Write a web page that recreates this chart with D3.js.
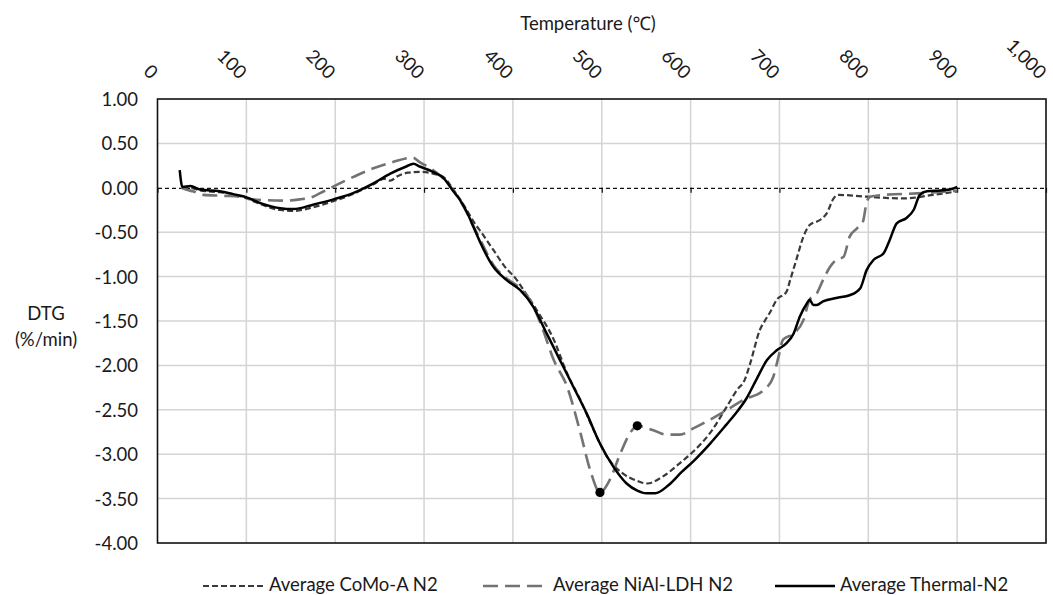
<!DOCTYPE html>
<html>
<head>
<meta charset="utf-8">
<script src="https://cdn.jsdelivr.net/npm/d3@7"></script>
<style>
  html, body { margin: 0; padding: 0; background: #fff; }
  svg { display: block; font-family: Lato, "Noto Sans", "DejaVu Sans", sans-serif; }
</style>
</head>
<body>
<svg id="chart" width="1053" height="595"></svg>
<script>
// Axis ticks and labels
const xTicks = [0, 100, 200, 300, 400, 500, 600, 700, 800, 900, 1000];
const xTickLabels = ["0", "100", "200", "300", "400", "500", "600", "700", "800", "900", "1,000"];
const yTicks = [1, 0.5, 0, -0.5, -1, -1.5, -2, -2.5, -3, -3.5, -4];
const yTickLabels = ["1.00", "0.50", "0.00", "-0.50", "-1.00", "-1.50", "-2.00", "-2.50", "-3.00", "-3.50", "-4.00"];

// Series names shown in the legend
const seriesNames = ["Average CoMo-A N2", "Average NiAl-LDH N2", "Average Thermal-N2"];

// DTG (%/min) against temperature (°C)
const comoA = [
  [28, 0.00], [37, 0.00], [48, -0.03], [70, -0.05], [89, -0.08], [101, -0.12], [115, -0.18],
  [138, -0.25], [153, -0.26], [175, -0.22], [198, -0.15], [220, -0.07], [243, 0.04], [255, 0.10],
  [262, 0.08], [270, 0.13], [282, 0.17], [295, 0.18], [310, 0.16], [322, 0.12], [333, -0.02],
  [345, -0.20], [357, -0.40], [365, -0.51], [378, -0.70], [391, -0.89], [403, -1.02], [412, -1.15],
  [427, -1.38], [446, -1.71], [461, -2.09], [476, -2.39], [491, -2.73], [506, -3.03], [524, -3.22],
  [540, -3.30], [551, -3.33], [569, -3.25], [588, -3.10], [603, -2.97], [622, -2.76], [641, -2.46],
  [652, -2.28], [661, -2.16], [667, -1.98], [678, -1.60], [684, -1.49], [689, -1.41], [697, -1.26],
  [708, -1.17], [712, -1.04], [719, -0.81], [727, -0.55], [734, -0.42], [746, -0.36], [753, -0.29],
  [761, -0.12], [766, -0.08], [798, -0.10], [839, -0.12], [873, -0.08], [900, -0.04]
];

const nialLDH = [
  [27, 0.00], [32, -0.02], [40, -0.04], [52, -0.08], [74, -0.09], [93, -0.10], [100, -0.12],
  [123, -0.14], [145, -0.145], [160, -0.13], [175, -0.10], [183, -0.06], [195, 0.00], [205, 0.05],
  [220, 0.12], [243, 0.22], [265, 0.29], [287, 0.34], [295, 0.29], [310, 0.20], [325, 0.07],
  [335, -0.06], [345, -0.22], [355, -0.42], [365, -0.62], [378, -0.87], [393, -1.02], [408, -1.13],
  [419, -1.26], [432, -1.55], [446, -1.94], [461, -2.24], [476, -2.76], [487, -3.18], [498, -3.43],
  [509, -3.29], [521, -2.99], [532, -2.76], [540, -2.68], [558, -2.73], [573, -2.78], [588, -2.78],
  [603, -2.71], [622, -2.61], [641, -2.50], [659, -2.39], [682, -2.28], [693, -2.13], [699, -1.90],
  [704, -1.71], [716, -1.64], [727, -1.49], [734, -1.26], [742, -1.19], [749, -1.04], [757, -0.89],
  [764, -0.81], [772, -0.78], [779, -0.55], [787, -0.46], [794, -0.38], [798, -0.17], [802, -0.10],
  [817, -0.08], [862, -0.06], [900, -0.03]
];

const thermalN2 = [
  [25, 0.20], [28, 0.01], [37, 0.02], [48, -0.02], [70, -0.04], [89, -0.08], [101, -0.11],
  [115, -0.17], [138, -0.23], [153, -0.24], [175, -0.19], [198, -0.13], [220, -0.06], [243, 0.05],
  [262, 0.16], [280, 0.24], [288, 0.27], [295, 0.24], [310, 0.18], [322, 0.11], [333, -0.04],
  [340, -0.13], [348, -0.27], [356, -0.45], [363, -0.61], [378, -0.89], [393, -1.04], [408, -1.15],
  [423, -1.34], [438, -1.64], [453, -1.94], [468, -2.24], [483, -2.54], [498, -2.88], [513, -3.14],
  [528, -3.33], [540, -3.41], [550, -3.44], [560, -3.44], [575, -3.35], [590, -3.20], [603, -3.08],
  [622, -2.88], [640, -2.67], [650, -2.55], [663, -2.37], [674, -2.16], [686, -1.94], [697, -1.83],
  [708, -1.75], [716, -1.64], [723, -1.45], [731, -1.30], [734, -1.26], [738, -1.32], [742, -1.32],
  [749, -1.28], [764, -1.24], [779, -1.21], [791, -1.13], [798, -0.93], [806, -0.81], [817, -0.74],
  [824, -0.59], [832, -0.40], [843, -0.34], [851, -0.25], [858, -0.08], [866, -0.04], [881, -0.03],
  [892, -0.02], [900, 0.01]
];

// Highlighted points on the NiAl-LDH curve
const nialMarkers = [[498, -3.43], [540, -2.68]];

const svg = d3.select("#chart");
const plot = { left: 157.5, right: 1046, top: 99, bottom: 543 };
const textColor = "#1a1a1a";
const fontSize = 18.5;

const x = d3.scaleLinear().domain([0, 1000]).range([plot.left, plot.right]);
const y = d3.scaleLinear().domain([-4, 1]).range([plot.bottom, plot.top]);

// Grid
const grid = svg.append("g").attr("stroke", "#d4d4d4").attr("stroke-width", 1.5);
grid.selectAll("line.v").data(xTicks.slice(1, -1)).join("line")
  .attr("class", "v")
  .attr("x1", d => x(d)).attr("x2", d => x(d))
  .attr("y1", plot.top).attr("y2", plot.bottom);
grid.selectAll("line.h").data(yTicks.filter(d => d !== 0 && d !== 1 && d !== -4)).join("line")
  .attr("class", "h")
  .attr("x1", plot.left).attr("x2", plot.right)
  .attr("y1", d => y(d)).attr("y2", d => y(d));

// Horizontal axis line through DTG = 0 (dashed, ticks pointing down)
const zeroAxis = svg.append("g")
  .attr("transform", `translate(0,${y(0)})`)
  .call(d3.axisBottom(x).tickValues(xTicks).tickSize(5).tickSizeOuter(0).tickFormat(""));
zeroAxis.select(".domain").attr("stroke", "#111").attr("stroke-width", 1.3).attr("stroke-dasharray", "4,3");
zeroAxis.selectAll(".tick line").attr("stroke", "#111").attr("stroke-width", 1.2);

// Plot frame
svg.append("rect")
  .attr("x", plot.left).attr("y", plot.top)
  .attr("width", plot.right - plot.left).attr("height", plot.bottom - plot.top)
  .attr("fill", "none").attr("stroke", "#111").attr("stroke-width", 1.6);

// Top temperature axis with rotated labels
const topAxis = svg.append("g")
  .attr("transform", "translate(0,80)")
  .call(d3.axisTop(x).tickValues(xTicks).tickSize(0).tickFormat((d, i) => xTickLabels[i]));
topAxis.select(".domain").remove();
topAxis.selectAll("text")
  .attr("x", 0).attr("y", 0).attr("dy", null)
  .attr("transform", "translate(-8,0) rotate(45)")
  .style("text-anchor", "end")
  .attr("fill", textColor)
  .style("font-size", fontSize + "px")
  .style("font-family", "Lato, 'Noto Sans', sans-serif");

svg.append("text")
  .attr("x", 588).attr("y", 30)
  .attr("text-anchor", "middle")
  .attr("fill", textColor)
  .style("font-size", fontSize + "px")
  .text("Temperature (℃)");

// Left DTG axis
const leftAxis = svg.append("g")
  .attr("transform", `translate(${plot.left},0)`)
  .call(d3.axisLeft(y).tickValues(yTicks).tickSize(0).tickPadding(19.5).tickFormat((d, i) => yTickLabels[i]));
leftAxis.select(".domain").remove();
leftAxis.selectAll("text")
  .attr("dy", "0.35em")
  .attr("fill", textColor)
  .style("font-size", fontSize + "px")
  .style("font-family", "Lato, 'Noto Sans', sans-serif");

const yTitle = svg.append("text")
  .attr("text-anchor", "middle")
  .attr("fill", textColor)
  .style("font-size", fontSize + "px");
yTitle.append("tspan").attr("x", 46).attr("y", 320).text("DTG");
yTitle.append("tspan").attr("x", 46).attr("y", 346).text("(%/min)");

// Series
const styles = [
  { data: comoA, stroke: "#3a3a3a", width: 2.2, dash: "6,3" },
  { data: nialLDH, stroke: "#737373", width: 2.6, dash: "15,7" },
  { data: thermalN2, stroke: "#000", width: 2.5, dash: null }
];

const line = d3.line()
  .x(d => x(d[0]))
  .y(d => y(d[1]))
  .curve(d3.curveMonotoneX);

svg.append("g").selectAll("path").data(styles).join("path")
  .attr("d", s => line(s.data))
  .attr("fill", "none")
  .attr("stroke", s => s.stroke)
  .attr("stroke-width", s => s.width)
  .attr("stroke-dasharray", s => s.dash)
  .attr("stroke-linejoin", "round");

svg.append("g").selectAll("circle").data(nialMarkers).join("circle")
  .attr("cx", d => x(d[0]))
  .attr("cy", d => y(d[1]))
  .attr("r", 4.6)
  .attr("fill", "#000");

// Legend
const legendItems = [
  { x1: 203, x2: 265, tx: 269 },
  { x1: 483, x2: 545, tx: 553 },
  { x1: 775, x2: 835, tx: 840 }
];
const legend = svg.append("g");
legendItems.forEach((p, i) => {
  const s = styles[i];
  legend.append("line")
    .attr("x1", p.x1).attr("x2", p.x2)
    .attr("y1", 586).attr("y2", 586)
    .attr("stroke", s.stroke)
    .attr("stroke-width", s.width)
    .attr("stroke-dasharray", s.dash);
  legend.append("text")
    .attr("x", p.tx).attr("y", 591)
    .attr("fill", textColor)
    .style("font-size", fontSize + "px")
    .text(seriesNames[i]);
});
</script>
</body>
</html>
